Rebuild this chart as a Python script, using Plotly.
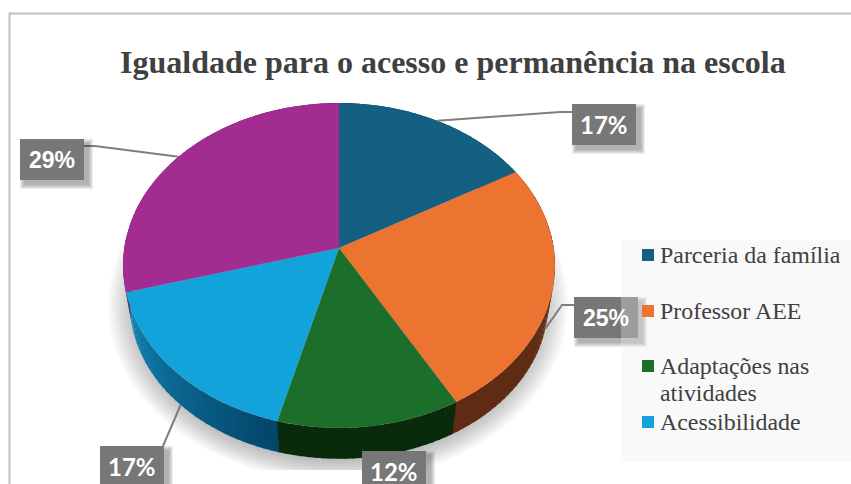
import numpy as np
import plotly.graph_objects as go

# ---- data ----
title = "Igualdade para o acesso e permanência na escola"
categories = ["Parceria da família", "Professor AEE", "Adaptações nas<br>atividades", "Acessibilidade", "Outros"]
shares = [16.7, 25.05, 12.4, 16.55, 29.3]
pct_labels = ["17%", "25%", "12%", "17%", "29%"]
top_colors = ["#156082", "#ED7331", "#1C6F2A", "#13A3DB", "#A32C92"]
wall_from = ["#0C3A4E", "#5F2C13", "#0A2A0C", "#1384B6", "#621A58"]
wall_to = ["#0C3A4E", "#5F2C13", "#0A2A0C", "#04466A", "#621A58"]

# ---- pie geometry (pixel-based axes, perspective disc) ----
W, H = 851, 484
K = 0.1077
TOP = dict(px=339.0, py=248.0, a=214.7, b=160.6)
BOT = dict(px=339.0, py=287.3, a=207.8, b=153.0)


def project(pct, ring):
    th = np.asarray(pct, float) / 100 * 2 * np.pi
    d = 1 + K * np.cos(th)
    return ring["px"] + ring["a"] * np.sin(th) / d, ring["py"] - ring["b"] * np.cos(th) / d


def hex2rgb(c):
    return np.array([int(c[i:i + 2], 16) for i in (1, 3, 5)], float)


fig = go.Figure()


def poly(x, y, color, opacity=None):
    fig.add_trace(go.Scatter(x=list(x), y=list(y), mode="lines", fill="toself", fillcolor=color,
                             line=dict(width=0), hoverinfo="skip", showlegend=False,
                             opacity=opacity))


def line(x, y, color, width):
    fig.add_trace(go.Scatter(x=list(x), y=list(y), mode="lines", line=dict(color=color, width=width),
                             hoverinfo="skip", showlegend=False))


def rect(x0, y0, x1, y1, color):
    poly([x0, x1, x1, x0, x0], [y0, y0, y1, y1, y0], color)


# frame
line([9.5, 9.5, 851], [484, 13.5, 13.5], "#C0C0C0", 2)

# soft shadow under the pie, cut at its lower edge
t = np.linspace(0, 2 * np.pi, 181)
for s in np.linspace(1.07, 0.93, 16):
    xs = 338 + 215 * s * np.cos(t)
    ys = 305 + 165 * s * np.sin(t)
    poly(xs, np.minimum(ys, 470), "rgba(90,90,90,0.028)")

edges = np.concatenate([[0], np.cumsum(shares)]).astype(float)

# walls
for i in range(len(shares)):
    n = max(int(shares[i]), 1) * 2
    steps = np.linspace(edges[i], edges[i + 1], n + 1)
    c0, c1 = hex2rgb(wall_from[i]), hex2rgb(wall_to[i])
    for j in range(n):
        q = np.linspace(steps[j], min(steps[j + 1] + 0.12, 100), 6)
        tx, ty = project(q, TOP)
        bx, by = project(q, BOT)
        # light-blue wall runs from its far end toward the front
        c = c1 + (c0 - c1) * (j / max(n - 1, 1)) if i == 3 else c0 + (c1 - c0) * (j / max(n - 1, 1))
        poly(np.r_[tx, bx[::-1]], np.r_[ty, by[::-1]], "rgb(%d,%d,%d)" % tuple(c))

# top faces
for i in range(len(shares)):
    q = np.linspace(edges[i], edges[i + 1], 90)
    ax, ay = project(q, TOP)
    poly(np.r_[TOP["px"], ax, TOP["px"]], np.r_[TOP["py"], ay, TOP["py"]], top_colors[i])

# leader lines: from the slice midpoint to the label
mids = (edges[:-1] + edges[1:]) / 2
leader_ring = [TOP, BOT, None, BOT, TOP]
leader_via = [[(560, 112), (572, 112)], [(562, 305), (574, 305)], None, [(163, 446)], [(95, 146), (84, 146)]]
for i in range(len(shares)):
    if leader_ring[i] is None:
        continue
    sx, sy = project(mids[i], leader_ring[i])
    pts = [(float(sx), float(sy))] + leader_via[i]
    line([p[0] for p in pts], [p[1] for p in pts], "#7F7F7F", 2)

# data-label boxes
box_xy = [(572, 104), (574, 297), (362, 451), (100, 446), (20, 139)]
box_w, box_h = 64, 41
box_font = ["Lato", "Liberation Sans", "Lato", "Lato", "Liberation Sans"]
box_size = [24, 23, 24, 24, 23]
for bx0, by0 in box_xy:
    for g in range(5, 0, -1):
        rect(bx0 + 5 - g, by0 + 5 - g, bx0 + box_w + 4 + g, by0 + box_h + 4 + g, "rgba(60,60,60,0.09)")
    rect(bx0, by0, bx0 + box_w, by0 + box_h, "#777777")

# legend panel + swatches
rect(621, 240, 851, 462, "rgba(237,237,237,0.33)")
legend_idx = [0, 1, 2, 3]
legend_y = [255, 311, 366, 422]
fig.add_trace(go.Scatter(x=[648] * 4, y=legend_y, mode="markers",
                         marker=dict(symbol="square", size=12, color=[top_colors[i] for i in legend_idx], line=dict(width=0)),
                         hoverinfo="skip", showlegend=False))

anns = [dict(x=453, y=62, text="<b>%s</b>" % title, showarrow=False, xanchor="center", yanchor="middle",
             font=dict(family="Liberation Serif", size=32, color="#404040"))]
for i in legend_idx:
    for n_line, part in enumerate(categories[i].split("<br>")):
        anns.append(dict(x=658, y=legend_y[i] + 27 * n_line, text=part, showarrow=False, xanchor="left", yanchor="middle",
                         align="left", font=dict(family="Liberation Serif", size=23.9, color="#404040")))
for i, (bx0, by0) in enumerate(box_xy):
    anns.append(dict(x=bx0 + box_w / 2, y=by0 + box_h / 2, text="<b>%s</b>" % pct_labels[i], showarrow=False,
                     xanchor="center", yanchor="middle",
                     font=dict(family=box_font[i], size=box_size[i], color="#FFFFFF")))

fig.update_layout(width=W, height=H, margin=dict(l=0, r=0, t=0, b=0), paper_bgcolor="white", plot_bgcolor="white",
                  xaxis=dict(range=[0, W], visible=False, fixedrange=True),
                  yaxis=dict(range=[H, 0], visible=False, fixedrange=True),
                  showlegend=False, annotations=anns)
for a in fig.layout.annotations:
    a.update(xref="x", yref="y")
fig.write_html("out.html", post_script="document.body.style.margin='0';document.body.style.overflow='hidden';",
               config={"displayModeBar": False})
